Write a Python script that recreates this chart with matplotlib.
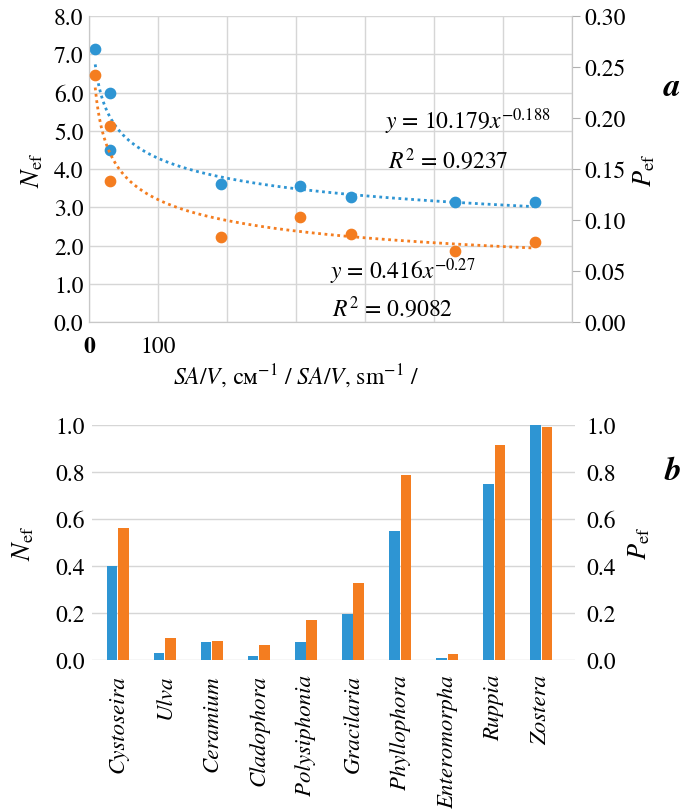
import numpy as np
import matplotlib
matplotlib.use('Agg')
import matplotlib.pyplot as plt

plt.rcParams['font.family'] = ['STIXGeneral', 'DejaVu Serif']
plt.rcParams['mathtext.fontset'] = 'stix'

# panel a data: SA/V vs N_ef (left) and P_ef (right)
sav = [9, 30, 30, 191, 306, 379, 530, 646]
n_ef = [7.15, 5.98, 4.50, 3.60, 3.56, 3.26, 3.14, 3.14]
p_ef = [0.242, 0.192, 0.138, 0.083, 0.103, 0.086, 0.070, 0.078]

# power-law trend coefficients as printed on the chart
n_coef, n_pow = 10.179, -0.188
p_coef, p_pow = 0.416, -0.27

# panel b data
species = ['Cystoseira', 'Ulva', 'Ceramium', 'Cladophora', 'Polysiphonia',
           'Gracilaria', 'Phyllophora', 'Enteromorpha', 'Ruppia', 'Zostera']
n_bar = [0.40, 0.03, 0.075, 0.016, 0.075, 0.195, 0.55, 0.01, 0.75, 1.0]
p_bar = [0.56, 0.093, 0.08, 0.062, 0.17, 0.326, 0.787, 0.024, 0.915, 0.99]

blue = '#2e95d3'
orange = '#f47d20'
grid_c = '#d6d6d6'
W, H = 684, 812

fig = plt.figure(figsize=(W / 100, H / 100), dpi=100)

# ---- panel a ----
ax1 = fig.add_axes([89 / W, 1 - 323 / H, (572 - 89) / W, (323 - 17) / H])
ax2 = ax1.twinx()

ax1.set_xlim(0, 700)
ax1.set_ylim(0, 8)
ax2.set_ylim(0, 0.30)
ax1.set_xticks(np.arange(0, 701, 100))
ax1.set_xticklabels(['0', '100', '', '', '', '', '', ''])
ax1.get_xticklabels()[0].set_fontweight('bold')
ax1.set_yticks(np.arange(0, 8.1, 1))
ax1.set_yticklabels(['%.1f' % v for v in np.arange(0, 8.1, 1)])
ax2.set_yticks(np.arange(0, 0.301, 0.05))
ax2.set_yticklabels(['%.2f' % v for v in np.arange(0, 0.301, 0.05)])
ax1.grid(True, color=grid_c, lw=1)
ax1.set_axisbelow(True)
ax1.tick_params(axis='both', length=0, labelsize=17, pad=4)
ax1.tick_params(axis='x', pad=10)
ax2.tick_params(axis='y', length=6, color='#b0b0b0', labelsize=17, pad=3)
for ax in (ax1, ax2):
    ax.spines['top'].set_visible(False)
    for s in ('left', 'right', 'bottom'):
        ax.spines[s].set_color('#c8c8c8')

xs = np.linspace(min(sav), max(sav), 300)
ax1.plot(xs, n_coef * xs ** n_pow, color=blue, lw=2, ls=(0, (1, 1.3)))
ax2.plot(xs, p_coef * xs ** p_pow, color=orange, lw=2, ls=(0, (1, 1.3)))
ax1.scatter(sav, n_ef, s=55, color=blue, zorder=3, clip_on=False)
ax2.scatter(sav, p_ef, s=55, color=orange, zorder=3, clip_on=False)

ax1.set_ylabel(r'$N_{\rm ef}$', fontsize=19, labelpad=6)
ax2.set_ylabel(r'$P_{\rm ef}$', fontsize=19, labelpad=4)
ax1.text(429, 5.25, r'$y$ = 10.179$x^{-0.188}$', fontsize=17, ha='left', va='center')
ax1.text(433, 4.25, r'$R^2$ = 0.9237', fontsize=17, ha='left', va='center')
ax1.text(349, 1.35, r'$y$ = 0.416$x^{-0.27}$', fontsize=17, ha='left', va='center')
ax1.text(352, 0.38, r'$R^2$ = 0.9082', fontsize=17, ha='left', va='center')
fig.text(296 / W, 1 - 377 / H, r'$SA/V$, см$^{-1}$ / $SA/V$, sm$^{-1}$ /',
         fontsize=17, ha='center', va='center')
fig.text(672 / W, 1 - 88 / H, 'a', fontsize=24, fontweight='bold',
         fontstyle='italic', ha='center', va='center')

# ---- panel b ----
ax3 = fig.add_axes([92 / W, 1 - 661 / H, (575 - 92) / W, (661 - 426) / H])
ax4 = ax3.twinx()
idx = np.arange(len(species))
bw = 0.23
ax3.bar(idx - 0.125, n_bar, width=bw, color=blue, zorder=3)
ax4.bar(idx + 0.125, p_bar, width=bw, color=orange, zorder=3)
ax3.set_xlim(-0.55, 9.72)
ax3.set_ylim(0, 1.0)
ax4.set_ylim(0, 1.0)
ax3.set_yticks(np.arange(0, 1.01, 0.2))
ax3.set_yticklabels(['%.1f' % v for v in np.arange(0, 1.01, 0.2)])
ax4.set_yticks(np.arange(0, 1.01, 0.2))
ax4.set_yticklabels(['%.1f' % v for v in np.arange(0, 1.01, 0.2)])
ax3.set_xticks(idx)
ax3.set_xticklabels(species, rotation=90, fontstyle='italic')
ax3.yaxis.grid(True, color=grid_c, lw=1)
ax3.set_axisbelow(True)
ax3.tick_params(axis='both', length=0, labelsize=17, pad=5)
ax3.tick_params(axis='x', labelsize=16.5, pad=10)
ax4.tick_params(axis='y', length=0, labelsize=17, pad=8)
for ax in (ax3, ax4):
    for s in ax.spines.values():
        s.set_visible(False)
ax3.set_ylabel(r'$N_{\rm ef}$', fontsize=19, labelpad=14)
ax4.set_ylabel(r'$P_{\rm ef}$', fontsize=19, labelpad=8)
fig.text(673 / W, 1 - 472 / H, 'b', fontsize=24, fontweight='bold',
         fontstyle='italic', ha='center', va='center')

fig.savefig('out.png', dpi=100)
